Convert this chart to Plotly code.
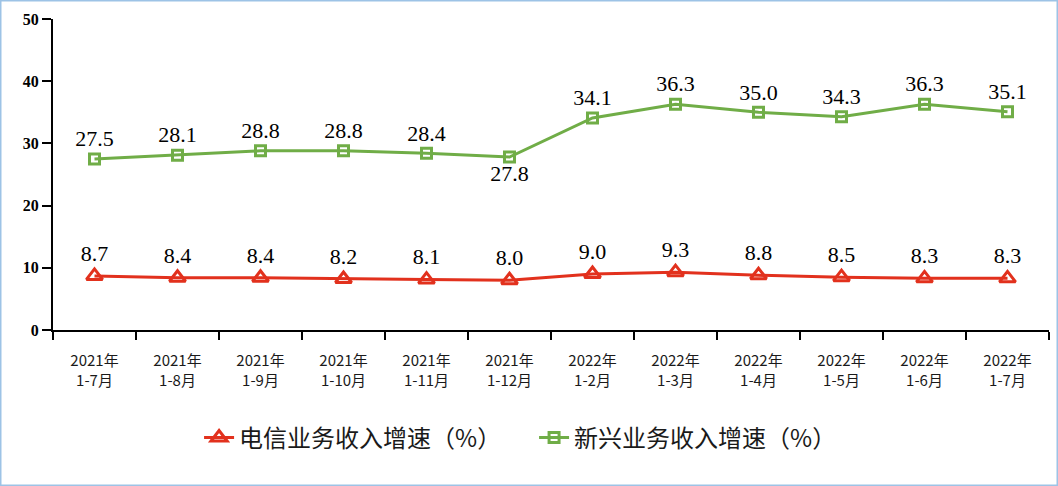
import plotly.graph_objects as go

categories = ["2021年<br>1-7月", "2021年<br>1-8月", "2021年<br>1-9月", "2021年<br>1-10月",
              "2021年<br>1-11月", "2021年<br>1-12月", "2022年<br>1-2月", "2022年<br>1-3月",
              "2022年<br>1-4月", "2022年<br>1-5月", "2022年<br>1-6月", "2022年<br>1-7月"]
telecom = [8.7, 8.4, 8.4, 8.2, 8.1, 8.0, 9.0, 9.3, 8.8, 8.5, 8.3, 8.3]
emerging = [27.5, 28.1, 28.8, 28.8, 28.4, 27.8, 34.1, 36.3, 35.0, 34.3, 36.3, 35.1]
emerging_pos = ["top center"] * 5 + ["bottom center"] + ["top center"] * 6

red = "#E2311D"
green = "#70AD47"
label_font = dict(family="Liberation Serif, Times New Roman, serif", size=22, color="#000000")

fig = go.Figure()
fig.add_trace(go.Scatter(
    x=categories, y=telecom, name="电信业务收入增速（%）",
    mode="lines+markers+text",
    line=dict(color=red, width=3),
    marker=dict(symbol="triangle-up-open", size=14, color=red, line=dict(width=3, color=red)),
    text=[f"{v:.1f}" for v in telecom], textposition="top center",
    textfont=label_font, cliponaxis=False,
))
fig.add_trace(go.Scatter(
    x=categories, y=emerging, name="新兴业务收入增速（%）",
    mode="lines+markers+text",
    line=dict(color=green, width=3),
    marker=dict(symbol="square-open", size=10, color=green, line=dict(width=3, color=green)),
    text=[f"{v:.1f}" for v in emerging], textposition=emerging_pos,
    textfont=label_font, cliponaxis=False,
))

fig.update_layout(
    width=1058, height=486,
    margin=dict(l=53, r=9, t=19, b=156),
    paper_bgcolor="white", plot_bgcolor="white",
    showlegend=True,
    legend=dict(orientation="h", x=0.483, xanchor="center", y=-0.347, yanchor="middle",
                font=dict(family="Noto Sans CJK SC, sans-serif", size=24, color="#1a1a1a"),
                entrywidth=290, tracegroupgap=0),
    xaxis=dict(
        type="category", showline=True, linecolor="#000000", linewidth=2,
        ticks="outside", tickson="boundaries", ticklen=8, tickwidth=1.5, tickcolor="#000000",
        tickfont=dict(family="Noto Sans CJK SC, sans-serif", size=15, color="#1a1a1a"),
        ticklabelstandoff=16,
        showgrid=False, zeroline=False, range=[-0.5, 11.5],
    ),
    yaxis=dict(
        range=[0, 50], dtick=10, showline=True, linecolor="#000000", linewidth=2,
        ticks="outside", ticklen=9, tickwidth=1.5, tickcolor="#000000",
        tickfont=dict(family="Liberation Serif, Times New Roman, serif", size=16,
                      color="#000000", weight="bold"),
        showgrid=False, zeroline=False,
    ),
)

# full-figure border
fig.add_shape(type="rect", xref="paper", yref="paper",
              x0=-53/996, x1=1+9/996, y0=-156/311, y1=1+19/311,
              line=dict(color="#9DC3E6", width=3))

fig.write_html("out.html", config={"displayModeBar": False},
               post_script="document.body.style.margin='0';document.body.style.padding='0';")
